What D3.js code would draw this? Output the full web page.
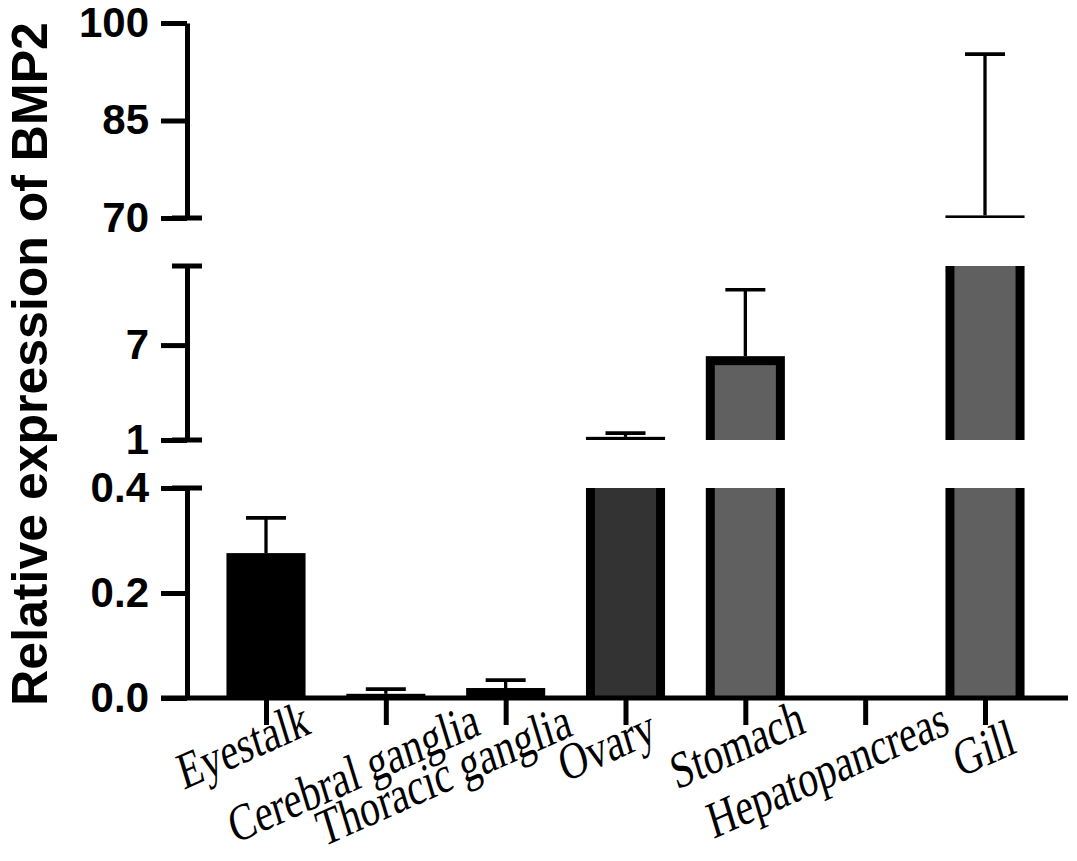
<!DOCTYPE html>
<html>
<head>
<meta charset="utf-8">
<script src="https://cdn.jsdelivr.net/npm/d3@7"></script>
<style>
  html, body { margin: 0; padding: 0; background: #fff; }
  svg { display: block; }
</style>
</head>
<body>
<svg id="chart" width="1077" height="861"></svg>
<script>
// ---------------- data ----------------
const categories = ["Eyestalk", "Cerebral ganglia", "Thoracic ganglia", "Ovary", "Stomach", "Hepatopancreas", "Gill"];
const means = [0.276, 0.008, 0.019, 1.2, 6.3, 0, 70.4];
const sds   = [0.067, 0.009, 0.015, 0.24, 4.2, 0, 24.8];
const bottomTicks = [0, 0.2, 0.4];
const middleTicks = [1, 7];
const topTicks = [70, 85, 100];
const yTitle = "Relative expression of BMP2";

// ---------------- layout / style ----------------
const fills = ["#000000", "#000000", "#000000", "#333333", "#606060", "#606060", "#606060"];
// small hand-placement nudges of the rotated category labels (as in the original figure)
const labelNudge = [[-4, -3], [7, -2], [-22, -1], [-6, 5], [11, -4], [0, -3], [6, 16]];
const labelCondense = 0.8;
const svg = d3.select("#chart");
const axisX = 187;
const tickLen = 26;
const border = 9;
const lw = 5;

const segments = [
  { domain: [0, 0.4],  range: [698, 488], ticks: bottomTicks, fmt: d3.format(".1f") },
  { domain: [1, 12],   range: [440, 266], ticks: middleTicks, fmt: d3.format("d") },
  { domain: [70, 100], range: [218, 23],  ticks: topTicks,    fmt: d3.format("d") }
];
segments.forEach(s => { s.scale = d3.scaleLinear().domain(s.domain).range(s.range); });

const x = d3.scalePoint().domain(categories).range([266, 985]);
const bw = x.step() * 0.66;

// ---------------- bars ----------------
const gBars = svg.append("g");
segments.forEach(s => {
  categories.forEach((c, i) => {
    const v = means[i];
    if (v <= s.domain[0]) return;
    const hi = Math.min(v, s.domain[1]);
    const topVisible = v <= s.domain[1];
    const y0 = s.scale(s.domain[0]);
    const y1 = s.scale(hi);
    const cx = x(c);
    gBars.append("rect")
      .attr("x", cx - bw / 2).attr("y", y1)
      .attr("width", bw).attr("height", y0 - y1)
      .attr("fill", "#000");
    const iy = y1 + (topVisible ? border : 0);
    const ih = y0 - iy;
    if (ih > 0) {
      gBars.append("rect")
        .attr("x", cx - bw / 2 + border).attr("y", iy)
        .attr("width", bw - 2 * border).attr("height", ih)
        .attr("fill", fills[i]);
    }
  });
});

// ---------------- error bars ----------------
const gErr = svg.append("g").attr("stroke", "#000").attr("fill", "none");
categories.forEach((c, i) => {
  const m = means[i], sd = sds[i];
  if (!(sd > 0)) return;
  const s = segments.find(sg => m >= sg.domain[0] && m <= sg.domain[1]);
  if (!s) return;
  const top = Math.min(m + sd, s.domain[1]);
  const cx = x(c);
  gErr.append("line")
    .attr("x1", cx).attr("x2", cx)
    .attr("y1", s.scale(m)).attr("y2", s.scale(top))
    .attr("stroke-width", 3.3);
  gErr.append("line")
    .attr("x1", cx - 20).attr("x2", cx + 20)
    .attr("y1", s.scale(top)).attr("y2", s.scale(top))
    .attr("stroke-width", 3.7);
});

// ---------------- y axis (broken) ----------------
segments.forEach((s, k) => {
  const ax = svg.append("g")
    .attr("transform", `translate(${axisX},0)`)
    .call(d3.axisLeft(s.scale).tickValues(s.ticks).tickSize(tickLen).tickSizeOuter(0).tickPadding(12).tickFormat(s.fmt));
  ax.select(".domain").attr("stroke-width", lw);
  ax.selectAll(".tick line").attr("stroke-width", lw);
  ax.selectAll(".tick text")
    .attr("font-family", "'Liberation Sans', Arial, sans-serif")
    .attr("font-weight", "bold")
    .attr("font-size", 42)
    .attr("fill", "#000");
  // break caps
  const caps = [];
  if (k > 0) caps.push(s.domain[0]);
  if (k < segments.length - 1) caps.push(s.domain[1]);
  caps.forEach(v => {
    svg.append("line")
      .attr("x1", axisX - 15).attr("x2", axisX + 15)
      .attr("y1", s.scale(v)).attr("y2", s.scale(v))
      .attr("stroke", "#000").attr("stroke-width", lw);
  });
});

// ---------------- x axis ----------------
const y0px = segments[0].scale(0);
const gx = svg.append("g")
  .attr("transform", `translate(0,${y0px})`)
  .call(d3.axisBottom(x).tickSize(27).tickFormat(""));
gx.select(".domain").remove();
gx.selectAll(".tick line").attr("stroke-width", lw);
svg.append("line")
  .attr("x1", axisX - tickLen).attr("x2", 1068)
  .attr("y1", y0px).attr("y2", y0px)
  .attr("stroke", "#000").attr("stroke-width", lw);

// category labels (rotated, slightly slanted, condensed, end-anchored)
categories.forEach((c, i) => {
  const t = svg.append("text")
    .attr("font-family", "'Liberation Serif', 'Times New Roman', serif")
    .attr("font-size", 51)
    .attr("fill", "#000")
    .attr("text-anchor", "end")
    .text(c);
  const L = t.node().getComputedTextLength() * labelCondense;
  const [nx, ny] = labelNudge[i];
  t.attr("transform", `translate(${x(c) + 8 + 0.3 * L + nx},${736 + ny}) rotate(-24) skewX(-7) scale(${labelCondense},1)`);
});

// y title
svg.append("text")
  .attr("transform", "translate(47,364) rotate(-90)")
  .attr("text-anchor", "middle")
  .attr("font-family", "'Liberation Sans', Arial, sans-serif")
  .attr("font-weight", "bold")
  .attr("font-size", 50)
  .attr("fill", "#000")
  .text(yTitle);
</script>
</body>
</html>
